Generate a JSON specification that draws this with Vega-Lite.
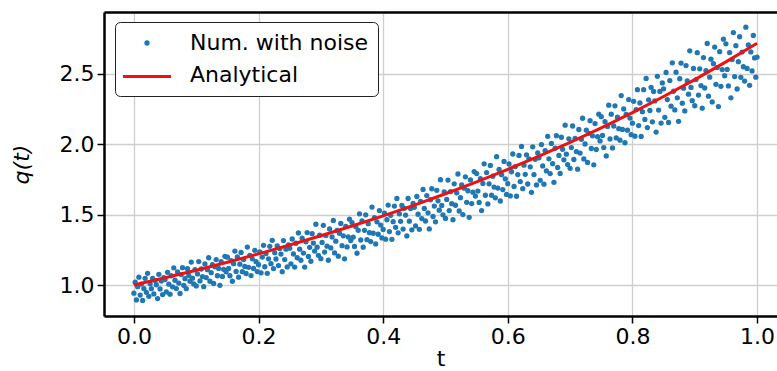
{
"$schema": "https://vega.github.io/schema/vega-lite/v6.json",
"width": 673, "height": 304,
"autosize": {"type": "none"},
"padding": {"left": 104, "top": 12, "right": 0, "bottom": 55},
"background": "white",
"datasets": {
"noisy": [
{"t":0.000,"q":0.942},{"t":0.002,"q":1.020},{"t":0.004,"q":0.894},{"t":0.006,"q":0.988},{"t":0.008,"q":1.056},{"t":0.010,"q":0.929},{"t":0.012,"q":1.007},{"t":0.014,"q":0.891},{"t":0.016,"q":0.975},{"t":0.018,"q":1.048},{"t":0.020,"q":0.948},{"t":0.022,"q":1.083},{"t":0.024,"q":0.920},{"t":0.026,"q":1.010},{"t":0.028,"q":0.974},{"t":0.030,"q":1.048},{"t":0.032,"q":0.937},{"t":0.034,"q":1.032},{"t":0.036,"q":1.002},{"t":0.038,"q":0.904},{"t":0.040,"q":1.076},{"t":0.042,"q":0.972},{"t":0.044,"q":1.028},{"t":0.046,"q":0.932},{"t":0.048,"q":1.052},
{"t":0.050,"q":1.039},{"t":0.052,"q":0.951},{"t":0.054,"q":1.090},{"t":0.056,"q":1.006},{"t":0.058,"q":0.935},{"t":0.060,"q":1.066},{"t":0.062,"q":0.987},{"t":0.064,"q":1.122},{"t":0.066,"q":1.034},{"t":0.068,"q":0.975},{"t":0.070,"q":1.093},{"t":0.072,"q":1.014},{"t":0.074,"q":0.940},{"t":0.076,"q":1.074},{"t":0.078,"q":1.123},{"t":0.080,"q":0.998},{"t":0.082,"q":1.045},{"t":0.084,"q":0.974},{"t":0.086,"q":1.116},{"t":0.088,"q":1.068},{"t":0.090,"q":1.027},{"t":0.092,"q":1.163},{"t":0.094,"q":1.049},{"t":0.096,"q":1.008},{"t":0.098,"q":1.109},
{"t":0.100,"q":0.994},{"t":0.102,"q":1.079},{"t":0.104,"q":1.167},{"t":0.106,"q":1.029},{"t":0.108,"q":1.114},{"t":0.110,"q":1.060},{"t":0.112,"q":0.988},{"t":0.114,"q":1.150},{"t":0.116,"q":1.053},{"t":0.118,"q":1.109},{"t":0.120,"q":1.194},{"t":0.122,"q":1.027},{"t":0.124,"q":1.088},{"t":0.126,"q":1.144},{"t":0.128,"q":1.011},{"t":0.130,"q":1.130},{"t":0.132,"q":1.181},{"t":0.134,"q":1.066},{"t":0.136,"q":1.118},{"t":0.138,"q":0.998},{"t":0.140,"q":1.167},{"t":0.142,"q":1.061},{"t":0.144,"q":1.112},{"t":0.146,"q":1.204},{"t":0.148,"q":1.094},
{"t":0.150,"q":1.198},{"t":0.152,"q":1.118},{"t":0.154,"q":1.066},{"t":0.156,"q":1.173},{"t":0.158,"q":1.027},{"t":0.160,"q":1.152},{"t":0.162,"q":1.241},{"t":0.164,"q":1.097},{"t":0.166,"q":1.200},{"t":0.168,"q":1.056},{"t":0.170,"q":1.148},{"t":0.172,"q":1.232},{"t":0.174,"q":1.095},{"t":0.176,"q":1.182},{"t":0.178,"q":1.132},{"t":0.180,"q":1.082},{"t":0.182,"q":1.270},{"t":0.184,"q":1.126},{"t":0.186,"q":1.211},{"t":0.188,"q":1.067},{"t":0.190,"q":1.186},{"t":0.192,"q":1.118},{"t":0.194,"q":1.247},{"t":0.196,"q":1.166},{"t":0.198,"q":1.096},
{"t":0.200,"q":1.144},{"t":0.202,"q":1.236},{"t":0.204,"q":1.087},{"t":0.206,"q":1.199},{"t":0.208,"q":1.282},{"t":0.210,"q":1.130},{"t":0.212,"q":1.223},{"t":0.214,"q":1.083},{"t":0.216,"q":1.186},{"t":0.218,"q":1.275},{"t":0.220,"q":1.152},{"t":0.222,"q":1.318},{"t":0.224,"q":1.117},{"t":0.226,"q":1.229},{"t":0.228,"q":1.185},{"t":0.230,"q":1.278},{"t":0.232,"q":1.138},{"t":0.234,"q":1.259},{"t":0.236,"q":1.220},{"t":0.238,"q":1.095},{"t":0.240,"q":1.316},{"t":0.242,"q":1.181},{"t":0.244,"q":1.255},{"t":0.246,"q":1.129},{"t":0.248,"q":1.286},
{"t":0.250,"q":1.262},{"t":0.252,"q":1.151},{"t":0.254,"q":1.327},{"t":0.256,"q":1.221},{"t":0.258,"q":1.128},{"t":0.260,"q":1.297},{"t":0.262,"q":1.194},{"t":0.264,"q":1.370},{"t":0.266,"q":1.255},{"t":0.268,"q":1.176},{"t":0.270,"q":1.333},{"t":0.272,"q":1.227},{"t":0.274,"q":1.128},{"t":0.276,"q":1.307},{"t":0.278,"q":1.373},{"t":0.280,"q":1.203},{"t":0.282,"q":1.268},{"t":0.284,"q":1.169},{"t":0.286,"q":1.365},{"t":0.288,"q":1.298},{"t":0.290,"q":1.241},{"t":0.292,"q":1.432},{"t":0.294,"q":1.269},{"t":0.296,"q":1.211},{"t":0.298,"q":1.354},
{"t":0.300,"q":1.187},{"t":0.302,"q":1.303},{"t":0.304,"q":1.424},{"t":0.306,"q":1.234},{"t":0.308,"q":1.352},{"t":0.310,"q":1.276},{"t":0.312,"q":1.176},{"t":0.314,"q":1.399},{"t":0.316,"q":1.264},{"t":0.318,"q":1.342},{"t":0.320,"q":1.459},{"t":0.322,"q":1.228},{"t":0.324,"q":1.312},{"t":0.326,"q":1.388},{"t":0.328,"q":1.205},{"t":0.330,"q":1.368},{"t":0.332,"q":1.438},{"t":0.334,"q":1.280},{"t":0.336,"q":1.350},{"t":0.338,"q":1.186},{"t":0.340,"q":1.417},{"t":0.342,"q":1.271},{"t":0.344,"q":1.342},{"t":0.346,"q":1.468},{"t":0.348,"q":1.316},
{"t":0.350,"q":1.444},{"t":0.352,"q":1.341},{"t":0.354,"q":1.274},{"t":0.356,"q":1.415},{"t":0.358,"q":1.226},{"t":0.360,"q":1.389},{"t":0.362,"q":1.506},{"t":0.364,"q":1.320},{"t":0.366,"q":1.455},{"t":0.368,"q":1.269},{"t":0.370,"q":1.389},{"t":0.372,"q":1.499},{"t":0.374,"q":1.322},{"t":0.376,"q":1.436},{"t":0.378,"q":1.372},{"t":0.380,"q":1.309},{"t":0.382,"q":1.554},{"t":0.384,"q":1.368},{"t":0.386,"q":1.479},{"t":0.388,"q":1.292},{"t":0.390,"q":1.449},{"t":0.392,"q":1.361},{"t":0.394,"q":1.529},{"t":0.396,"q":1.426},{"t":0.398,"q":1.335},
{"t":0.400,"q":1.395},{"t":0.402,"q":1.510},{"t":0.404,"q":1.326},{"t":0.406,"q":1.464},{"t":0.408,"q":1.568},{"t":0.410,"q":1.380},{"t":0.412,"q":1.496},{"t":0.414,"q":1.325},{"t":0.416,"q":1.450},{"t":0.418,"q":1.561},{"t":0.420,"q":1.410},{"t":0.422,"q":1.615},{"t":0.424,"q":1.371},{"t":0.426,"q":1.506},{"t":0.428,"q":1.453},{"t":0.430,"q":1.566},{"t":0.432,"q":1.398},{"t":0.434,"q":1.545},{"t":0.436,"q":1.497},{"t":0.438,"q":1.349},{"t":0.440,"q":1.615},{"t":0.442,"q":1.454},{"t":0.444,"q":1.543},{"t":0.446,"q":1.392},{"t":0.448,"q":1.580},
{"t":0.450,"q":1.552},{"t":0.452,"q":1.420},{"t":0.454,"q":1.629},{"t":0.456,"q":1.503},{"t":0.458,"q":1.396},{"t":0.460,"q":1.594},{"t":0.462,"q":1.472},{"t":0.464,"q":1.679},{"t":0.466,"q":1.544},{"t":0.468,"q":1.455},{"t":0.470,"q":1.636},{"t":0.472,"q":1.513},{"t":0.474,"q":1.399},{"t":0.476,"q":1.606},{"t":0.478,"q":1.684},{"t":0.480,"q":1.487},{"t":0.482,"q":1.561},{"t":0.484,"q":1.449},{"t":0.486,"q":1.673},{"t":0.488,"q":1.598},{"t":0.490,"q":1.532},{"t":0.492,"q":1.748},{"t":0.494,"q":1.565},{"t":0.496,"q":1.499},{"t":0.498,"q":1.662},
{"t":0.500,"q":1.473},{"t":0.502,"q":1.608},{"t":0.504,"q":1.746},{"t":0.506,"q":1.529},{"t":0.508,"q":1.664},{"t":0.510,"q":1.578},{"t":0.512,"q":1.464},{"t":0.514,"q":1.719},{"t":0.516,"q":1.567},{"t":0.518,"q":1.655},{"t":0.520,"q":1.789},{"t":0.522,"q":1.526},{"t":0.524,"q":1.621},{"t":0.526,"q":1.711},{"t":0.528,"q":1.501},{"t":0.530,"q":1.688},{"t":0.532,"q":1.769},{"t":0.534,"q":1.588},{"t":0.536,"q":1.670},{"t":0.538,"q":1.481},{"t":0.540,"q":1.747},{"t":0.542,"q":1.579},{"t":0.544,"q":1.660},{"t":0.546,"q":1.806},{"t":0.548,"q":1.632},
{"t":0.550,"q":1.792},{"t":0.552,"q":1.668},{"t":0.554,"q":1.587},{"t":0.556,"q":1.756},{"t":0.558,"q":1.529},{"t":0.560,"q":1.722},{"t":0.562,"q":1.861},{"t":0.564,"q":1.638},{"t":0.566,"q":1.799},{"t":0.568,"q":1.576},{"t":0.570,"q":1.719},{"t":0.572,"q":1.850},{"t":0.574,"q":1.638},{"t":0.576,"q":1.773},{"t":0.578,"q":1.696},{"t":0.580,"q":1.620},{"t":0.582,"q":1.912},{"t":0.584,"q":1.689},{"t":0.586,"q":1.821},{"t":0.588,"q":1.597},{"t":0.590,"q":1.784},{"t":0.592,"q":1.678},{"t":0.594,"q":1.878},{"t":0.596,"q":1.755},{"t":0.598,"q":1.644},
{"t":0.600,"q":1.720},{"t":0.602,"q":1.860},{"t":0.604,"q":1.633},{"t":0.606,"q":1.805},{"t":0.608,"q":1.931},{"t":0.610,"q":1.700},{"t":0.612,"q":1.842},{"t":0.614,"q":1.631},{"t":0.616,"q":1.785},{"t":0.618,"q":1.921},{"t":0.620,"q":1.735},{"t":0.622,"q":1.985},{"t":0.624,"q":1.685},{"t":0.626,"q":1.852},{"t":0.628,"q":1.787},{"t":0.630,"q":1.925},{"t":0.632,"q":1.718},{"t":0.634,"q":1.897},{"t":0.636,"q":1.840},{"t":0.638,"q":1.659},{"t":0.640,"q":1.982},{"t":0.642,"q":1.785},{"t":0.644,"q":1.893},{"t":0.646,"q":1.711},{"t":0.648,"q":1.939},
{"t":0.650,"q":1.904},{"t":0.652,"q":1.744},{"t":0.654,"q":1.998},{"t":0.656,"q":1.846},{"t":0.658,"q":1.717},{"t":0.660,"q":1.955},{"t":0.662,"q":1.811},{"t":0.664,"q":2.057},{"t":0.666,"q":1.897},{"t":0.668,"q":1.792},{"t":0.670,"q":2.006},{"t":0.672,"q":1.862},{"t":0.674,"q":1.730},{"t":0.676,"q":1.972},{"t":0.678,"q":2.061},{"t":0.680,"q":1.835},{"t":0.682,"q":1.921},{"t":0.684,"q":1.793},{"t":0.686,"q":2.050},{"t":0.688,"q":1.964},{"t":0.690,"q":1.890},{"t":0.692,"q":2.136},{"t":0.694,"q":1.930},{"t":0.696,"q":1.856},{"t":0.698,"q":2.039},
{"t":0.700,"q":1.829},{"t":0.702,"q":1.977},{"t":0.704,"q":2.130},{"t":0.706,"q":1.892},{"t":0.708,"q":2.042},{"t":0.710,"q":1.948},{"t":0.712,"q":1.823},{"t":0.714,"q":2.105},{"t":0.716,"q":1.938},{"t":0.718,"q":2.036},{"t":0.720,"q":2.185},{"t":0.722,"q":1.896},{"t":0.724,"q":2.002},{"t":0.726,"q":2.100},{"t":0.728,"q":1.871},{"t":0.730,"q":2.078},{"t":0.732,"q":2.168},{"t":0.734,"q":1.970},{"t":0.736,"q":2.060},{"t":0.738,"q":1.854},{"t":0.740,"q":2.147},{"t":0.742,"q":1.963},{"t":0.744,"q":2.054},{"t":0.746,"q":2.214},{"t":0.748,"q":2.024},
{"t":0.750,"q":2.196},{"t":0.752,"q":2.063},{"t":0.754,"q":1.977},{"t":0.756,"q":2.161},{"t":0.758,"q":1.917},{"t":0.760,"q":2.127},{"t":0.762,"q":2.278},{"t":0.764,"q":2.038},{"t":0.766,"q":2.214},{"t":0.768,"q":1.974},{"t":0.770,"q":2.130},{"t":0.772,"q":2.273},{"t":0.774,"q":2.045},{"t":0.776,"q":2.193},{"t":0.778,"q":2.111},{"t":0.780,"q":2.029},{"t":0.782,"q":2.346},{"t":0.784,"q":2.106},{"t":0.786,"q":2.251},{"t":0.788,"q":2.011},{"t":0.790,"q":2.213},{"t":0.792,"q":2.100},{"t":0.794,"q":2.318},{"t":0.796,"q":2.186},{"t":0.798,"q":2.068},
{"t":0.800,"q":2.150},{"t":0.802,"q":2.305},{"t":0.804,"q":2.058},{"t":0.806,"q":2.247},{"t":0.808,"q":2.388},{"t":0.810,"q":2.133},{"t":0.812,"q":2.294},{"t":0.814,"q":2.056},{"t":0.816,"q":2.232},{"t":0.818,"q":2.388},{"t":0.820,"q":2.177},{"t":0.822,"q":2.468},{"t":0.824,"q":2.119},{"t":0.826,"q":2.316},{"t":0.828,"q":2.240},{"t":0.830,"q":2.405},{"t":0.832,"q":2.160},{"t":0.834,"q":2.375},{"t":0.836,"q":2.308},{"t":0.838,"q":2.087},{"t":0.840,"q":2.483},{"t":0.842,"q":2.243},{"t":0.844,"q":2.376},{"t":0.846,"q":2.151},{"t":0.848,"q":2.436},
{"t":0.850,"q":2.394},{"t":0.852,"q":2.192},{"t":0.854,"q":2.510},{"t":0.856,"q":2.318},{"t":0.858,"q":2.155},{"t":0.860,"q":2.453},{"t":0.862,"q":2.271},{"t":0.864,"q":2.579},{"t":0.866,"q":2.377},{"t":0.868,"q":2.244},{"t":0.870,"q":2.512},{"t":0.872,"q":2.330},{"t":0.874,"q":2.163},{"t":0.876,"q":2.466},{"t":0.878,"q":2.577},{"t":0.880,"q":2.292},{"t":0.882,"q":2.399},{"t":0.884,"q":2.237},{"t":0.886,"q":2.559},{"t":0.888,"q":2.450},{"t":0.890,"q":2.356},{"t":0.892,"q":2.664},{"t":0.894,"q":2.404},{"t":0.896,"q":2.310},{"t":0.898,"q":2.539},
{"t":0.900,"q":2.274},{"t":0.902,"q":2.460},{"t":0.904,"q":2.651},{"t":0.906,"q":2.350},{"t":0.908,"q":2.536},{"t":0.910,"q":2.417},{"t":0.912,"q":2.257},{"t":0.914,"q":2.616},{"t":0.916,"q":2.400},{"t":0.918,"q":2.524},{"t":0.920,"q":2.717},{"t":0.922,"q":2.342},{"t":0.924,"q":2.477},{"t":0.926,"q":2.605},{"t":0.928,"q":2.301},{"t":0.930,"q":2.573},{"t":0.932,"q":2.691},{"t":0.934,"q":2.426},{"t":0.936,"q":2.545},{"t":0.938,"q":2.268},{"t":0.940,"q":2.658},{"t":0.942,"q":2.412},{"t":0.944,"q":2.531},{"t":0.946,"q":2.747},{"t":0.948,"q":2.487},
{"t":0.950,"q":2.714},{"t":0.952,"q":2.532},{"t":0.954,"q":2.415},{"t":0.956,"q":2.652},{"t":0.958,"q":2.330},{"t":0.960,"q":2.602},{"t":0.962,"q":2.794},{"t":0.964,"q":2.481},{"t":0.966,"q":2.701},{"t":0.968,"q":2.393},{"t":0.970,"q":2.587},{"t":0.972,"q":2.764},{"t":0.974,"q":2.476},{"t":0.976,"q":2.655},{"t":0.978,"q":2.551},{"t":0.980,"q":2.449},{"t":0.982,"q":2.832},{"t":0.984,"q":2.539},{"t":0.986,"q":2.706},{"t":0.988,"q":2.419},{"t":0.990,"q":2.656},{"t":0.992,"q":2.521},{"t":0.994,"q":2.773},{"t":0.996,"q":2.614},{"t":0.998,"q":2.477},{"t":1.000,"q":2.620}
],
"exact": [
{"t":0,"q":1.0},{"t":0.05,"q":1.0513},{"t":0.1,"q":1.1052},{"t":0.15,"q":1.1618},{"t":0.2,"q":1.2214},{"t":0.25,"q":1.284},{"t":0.3,"q":1.3499},{"t":0.35,"q":1.4191},{"t":0.4,"q":1.4918},{"t":0.45,"q":1.5683},{"t":0.5,"q":1.6487},{"t":0.55,"q":1.7333},{"t":0.6,"q":1.8221},{"t":0.65,"q":1.9155},{"t":0.7,"q":2.0138},{"t":0.75,"q":2.117},{"t":0.8,"q":2.2255},{"t":0.85,"q":2.3396},{"t":0.9,"q":2.4596},{"t":0.95,"q":2.5857},{"t":1.0,"q":2.7183}
]
},
"layer": [
{
"data": {"name": "noisy"},
"mark": {"type": "circle", "size": 28, "opacity": 1},
"encoding": {
"x": {"field": "t", "type": "quantitative", "scale": {"domain": [-0.048, 1.032], "nice": false, "zero": false},
"axis": {"orient": "bottom", "values": [0, 0.2, 0.4, 0.6, 0.8, 1.0], "format": ".1f", "title": "t", "grid": true, "titlePadding": 1}},
"y": {"field": "q", "type": "quantitative", "scale": {"domain": [0.78, 2.94], "nice": false, "zero": false},
"axis": {"values": [1.0, 1.5, 2.0, 2.5], "format": ".1f", "title": "q(t)", "titleFontStyle": "italic", "grid": true, "titlePadding": 26}},
"color": {"datum": "Num. with noise", "type": "nominal",
"scale": {"domain": ["Num. with noise", "Analytical"], "range": ["#1f77b4", "transparent"]},
"legend": {
"orient": "none", "legendX": 11, "legendY": 10, "direction": "vertical", "title": null,
"labelFontSize": 22, "labelColor": "black", "labelFont": "DejaVu Sans", "labelLimit": 400,
"symbolType": "circle", "symbolSize": 28, "symbolOffset": 11, "labelOffset": 32, "symbolOpacity": 1,
"rowPadding": 10, "padding": 10, "fillColor": "white", "strokeColor": "#222222", "cornerRadius": 5
}
}
}
},
{
"data": {"name": "exact"},
"mark": {"type": "line", "strokeWidth": 3},
"encoding": {
"x": {"field": "t", "type": "quantitative",
"axis": {"orient": "top", "labels": false, "ticks": false, "grid": false, "title": null, "domain": true}},
"y": {"field": "q", "type": "quantitative"},
"color": {"datum": "Analytical", "type": "nominal",
"scale": {"domain": ["Analytical"], "range": ["#f01010"]},
"legend": {
"orient": "none", "legendX": 17.5, "legendY": 39, "title": null,
"labelFontSize": 22, "labelExpr": "''", "labelFont": "DejaVu Sans",
"symbolType": "stroke", "symbolSize": 2304, "symbolStrokeWidth": 3, "padding": 0
}
}
}
}
],
"resolve": {"axis": {"x": "independent"}, "scale": {"color": "independent"}},
"config": {
"view": {"stroke": null},
"font": "DejaVu Sans",
"axis": {
"domainColor": "black", "domainWidth": 2.5,
"gridColor": "#cfcfcf", "gridWidth": 1.3,
"tickColor": "black", "tickSize": 7, "tickWidth": 1.5,
"labelFontSize": 22, "labelColor": "black", "labelPadding": 3, "labelFont": "DejaVu Sans",
"titleFontSize": 22, "titleFontWeight": "normal", "titleColor": "black", "titleFont": "DejaVu Sans"
}
}
}
